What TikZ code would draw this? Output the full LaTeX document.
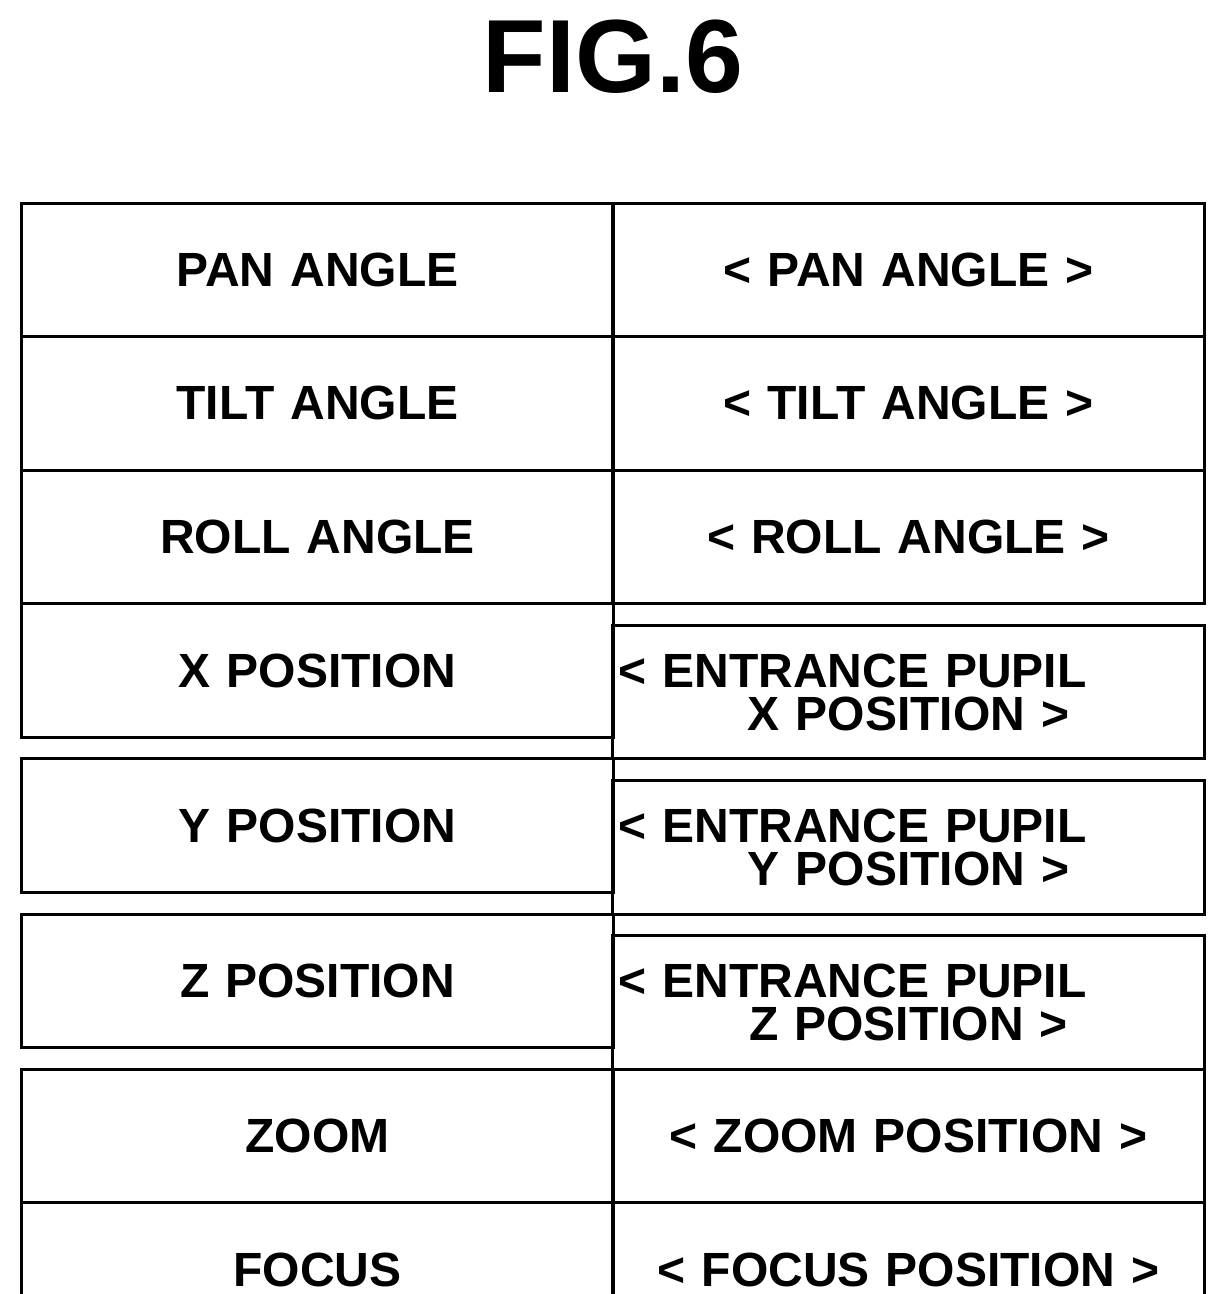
\documentclass[tikz,border=0pt]{standalone}
\usepackage{fontspec}
\setmainfont{Liberation Sans}
\usetikzlibrary{matrix,positioning}

\begin{document}
\begin{tikzpicture}[
title/.style={
  font=\fontsize{52}{56}\selectfont\bfseries,
  inner sep=0pt
  },
grid/.style={
  matrix of nodes,
  inner sep=0pt,
  outer sep=0pt,
  nodes={
    draw,
    line width=1.5pt,
    minimum width=295.5pt,
    minimum height=66.8pt,
    text width=290pt,
    align=center,
    inner sep=0pt,
    font=\fontsize{24}{21.5}\selectfont\bfseries
    },
  column sep=-1.5pt,
  row sep=-1.5pt
  }
]
\useasboundingbox (0pt,0pt) rectangle (613pt,-647pt);
\node[title] (fig) at (306.5pt,-28.5pt) {FIG.6};
\matrix[grid, anchor=north west] (tab) at (10.25pt,-100.75pt)
{
PAN ANGLE & < PAN ANGLE > \\
TILT ANGLE & < TILT ANGLE > \\
ROLL ANGLE & < ROLL ANGLE > \\
X POSITION & {< ENTRANCE PUPIL\newline X POSITION >} \\
Y POSITION & {< ENTRANCE PUPIL\newline Y POSITION >} \\
Z POSITION & {< ENTRANCE PUPIL\newline Z POSITION >} \\
ZOOM & < ZOOM POSITION > \\
FOCUS & < FOCUS POSITION > \\
};
\end{tikzpicture}
\end{document}
